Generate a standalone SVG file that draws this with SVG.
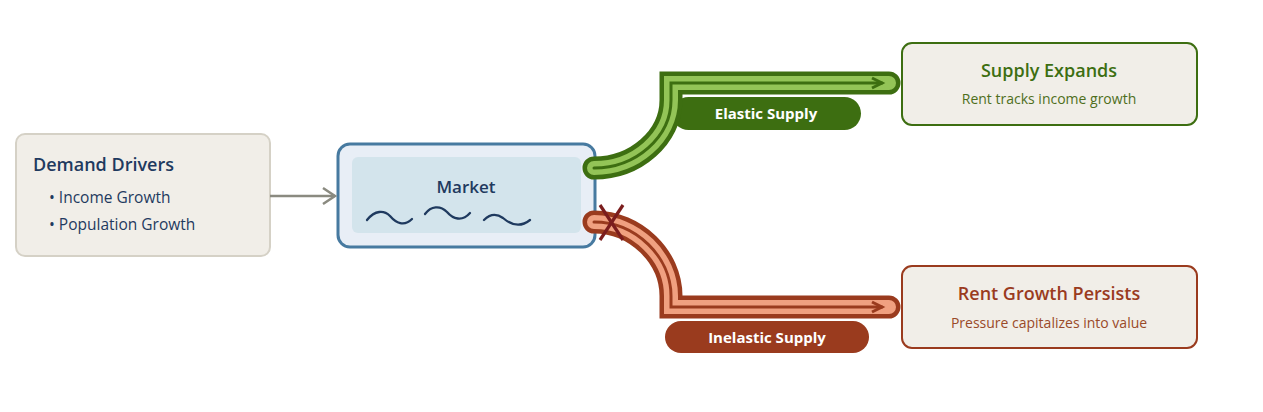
<svg xmlns="http://www.w3.org/2000/svg" width="1263" height="412" viewBox="0 0 1263 412">
<defs>
<style>
text{font-family:"Open Sans","Noto Sans","Liberation Sans",sans-serif}
.title{font-size:18px;font-weight:600}
.navy{fill:#1f3a5f}
.item{font-size:15.5px;fill:#1f3a5f}
.sub{font-size:14px}
.lbl{font-size:15px;font-weight:700;fill:#ffffff;text-anchor:middle}
.pipe{fill:none;stroke-linejoin:miter;stroke-linecap:round}
</style>
<marker id="chevG" markerUnits="userSpaceOnUse" orient="auto" refX="0" refY="0" markerWidth="30" markerHeight="30" overflow="visible">
<path d="M-10,-5 L0,0 L-10,5" fill="none" stroke="#3d6e11" stroke-width="3" stroke-linejoin="miter"/>
</marker>
<marker id="chevR" markerUnits="userSpaceOnUse" orient="auto" refX="0" refY="0" markerWidth="30" markerHeight="30" overflow="visible">
<path d="M-10,-5 L0,0 L-10,5" fill="none" stroke="#9a3b1e" stroke-width="3" stroke-linejoin="miter"/>
</marker>
<marker id="chevGray" markerUnits="userSpaceOnUse" orient="auto" refX="0" refY="0" markerWidth="30" markerHeight="30" overflow="visible">
<path d="M-12,-8 L0,0 L-12,8" fill="none" stroke="#8a8a80" stroke-width="2.5"/>
</marker>
</defs>

<g id="node-demand">
<rect x="16" y="134" width="254" height="122" rx="9" fill="#f1eee8" stroke="#d5d1c6" stroke-width="2"/>
<text x="33" y="171" class="title navy">Demand Drivers</text>
<text x="49" y="203" class="item">• Income Growth</text>
<text x="49" y="230" class="item">• Population Growth</text>
</g>

<g id="node-market">
<rect x="338" y="144" width="257" height="103" rx="12" fill="#e8eef6" stroke="#477aa0" stroke-width="3"/>
<rect x="352" y="157" width="229" height="76" rx="6" fill="#d3e4ec"/>
<text x="466" y="193" class="navy" style="font-size:17px;font-weight:600" text-anchor="middle">Market</text>
<g fill="none" stroke="#1f3a5f" stroke-width="2.3" stroke-linecap="round">
<path d="M367,220 C375,210 384,210 390,216 C396,223 404,227 412,219"/>
<path d="M425,214 C431,206 440,205 447,212 C453,219 462,222 470,213"/>
<path d="M484,220 C490,214 496,213 503,218 C510,224 520,228 530,220"/>
</g>
</g>

<g id="connectors">
<line x1="270" y1="196" x2="335" y2="196" stroke="#8a8a80" stroke-width="2.5" marker-end="url(#chevGray)"/>
<rect x="672" y="97" width="189" height="33" rx="16.5" fill="#3d6e11"/>
<rect x="665" y="321" width="204" height="32" rx="16" fill="#9a3b1e"/>
<path class="pipe" d="M594,168 C636,168 671,137 671,100 L671,83 L889,83" stroke="#3d6e11" stroke-width="23"/>
<path class="pipe" d="M594,168 C636,168 671,137 671,100 L671,83 L889,83" stroke="#93c457" stroke-width="14"/>
<path class="pipe" d="M594,168 C636,168 671,137 671,100 L671,83 L882,83" stroke="#3d6e11" stroke-width="3" marker-end="url(#chevG)"/>
<path class="pipe" d="M594,222 C636,222 671,257 671,296 L671,307 L889,307" stroke="#9a3b1e" stroke-width="23"/>
<path class="pipe" d="M594,222 C636,222 671,257 671,296 L671,307 L889,307" stroke="#f0a080" stroke-width="14"/>
<path class="pipe" d="M594,222 C636,222 671,257 671,296 L671,307 L882,307" stroke="#9a3b1e" stroke-width="3" marker-end="url(#chevR)"/>
<g stroke="#7b1d1d" stroke-width="3.2" stroke-linecap="butt">
<line x1="600" y1="205" x2="623" y2="240"/>
<line x1="623" y1="205" x2="600" y2="240"/>
</g>
<text x="766" y="119" class="lbl">Elastic Supply</text>
<text x="767" y="343" class="lbl">Inelastic Supply</text>
</g>

<g id="node-supply-expands">
<rect x="902" y="43" width="295" height="82" rx="10" fill="#f1eee8" stroke="#3d6e11" stroke-width="2"/>
<text x="1049" y="77" class="title" fill="#3d6e11" text-anchor="middle">Supply Expands</text>
<text x="1049" y="104" class="sub" fill="#4f6e1c" text-anchor="middle">Rent tracks income growth</text>
</g>

<g id="node-rent-growth">
<rect x="902" y="266" width="295" height="82" rx="10" fill="#f1eee8" stroke="#9a3b1e" stroke-width="2"/>
<text x="1049" y="300" class="title" fill="#9a3b1e" text-anchor="middle">Rent Growth Persists</text>
<text x="1049" y="328" class="sub" fill="#9a4a28" text-anchor="middle">Pressure capitalizes into value</text>
</g>
</svg>
